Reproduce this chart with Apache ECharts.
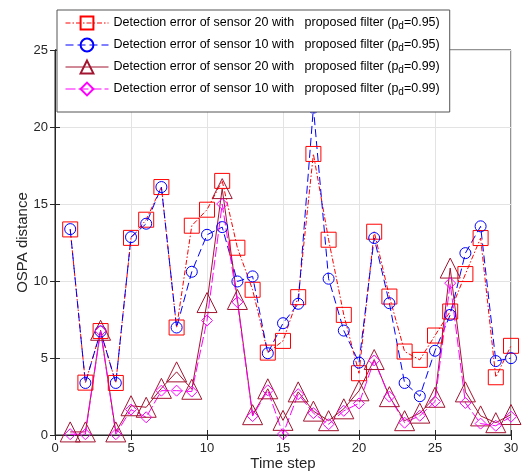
<!DOCTYPE html>
<html>
<head>
<meta charset="utf-8">
<script src="https://cdn.jsdelivr.net/npm/echarts@6/dist/echarts.min.js"></script>
<style>
html,body{margin:0;padding:0;background:#fff;}
#chart{width:522px;height:473px;}
</style>
</head>
<body>
<div id="chart"></div>
<script>
// ---- data ----
var steps = [1,2,3,4,5,6,7,8,9,10,11,12,13,14,15,16,17,18,19,20,21,22,23,24,25,26,27,28,29,30];
var s20pd95 = [13.35,3.4,6.75,3.38,12.8,13.98,16.1,6.98,13.59,14.63,16.5,12.16,9.43,5.35,6.11,8.95,18.25,12.68,7.8,4.01,13.2,8.99,5.42,4.88,6.46,8.02,10.45,12.79,3.75,5.79];
var s10pd95 = [13.37,3.38,6.72,3.38,12.85,13.72,16.1,6.98,10.6,13.0,13.5,9.97,10.3,5.31,7.26,8.52,21.26,10.15,6.78,4.7,12.79,8.56,3.38,2.52,5.47,7.8,11.81,13.55,4.8,4.99];
var s20pd99 = [0.2,0.2,6.8,0.2,1.9,1.8,3.03,4.1,2.97,8.6,16.0,8.8,1.32,3.0,0.95,2.8,1.55,0.93,1.7,2.87,4.9,2.49,0.93,1.42,2.45,10.84,2.8,1.24,0.8,1.33];
var s10pd99 = [0.05,0.05,6.76,0.05,1.65,1.15,2.88,2.88,2.82,7.43,15.0,8.63,1.23,2.9,0.06,2.65,1.42,0.7,1.57,2.05,4.84,2.49,0.8,1.25,2.17,9.86,2.08,0.74,0.6,1.19];
var names = [
  'Detection error of sensor 20 with   proposed filter (p{sub|d}=0.95)',
  'Detection error of sensor 10 with   proposed filter (p{sub|d}=0.95)',
  'Detection error of sensor 20 with   proposed filter (p{sub|d}=0.99)',
  'Detection error of sensor 10 with   proposed filter (p{sub|d}=0.99)'
];
var xTicks = [0,5,10,15,20,25,30];
var yTicks = [0,5,10,15,20,25];

function pairs(v){ return steps.map(function(t,i){ return [t, v[i]]; }); }

var chart = echarts.init(document.getElementById('chart'), null, {renderer:'canvas'});
var font = 'Liberation Sans, Arial, Helvetica, sans-serif';
var axisCol = '#262626';

function mk(name, data, color, dash, symbol, size){
  return {
    name: name, type: 'line', data: pairs(data),
    symbol: symbol, symbolSize: size, showSymbol: true,
    lineStyle: {color: color, width: 1, type: dash},
    itemStyle: {color: 'rgba(0,0,0,0)', borderColor: color, borderWidth: 1},
    emphasis: {disabled: true}, animation: false
  };
}

var option = {
  animation: false,
  grid: {left: 55, right: 11, top: 50, bottom: 38, containLabel: false, outerBoundsMode: 'none',
    show: true, borderColor: axisCol, borderWidth: 1, backgroundColor: '#fff'},
  legend: {
    orient: 'vertical', left: 57, top: 10,
    itemWidth: 43, itemHeight: 16, itemGap: 6,
    padding: [5, 10, 15, 8],
    backgroundColor: '#fff', borderColor: '#555', borderWidth: 1,
    selectedMode: false,
    lineStyle: {width: 1},
    textStyle: {
      fontFamily: font, fontSize: 12.5, color: '#000', lineHeight: 16,
      rich: {
        sub: {fontFamily: font, fontSize: 10, color: '#000', verticalAlign: 'bottom', lineHeight: 10, padding: [6,0,0,0]}
      }
    },
    data: names.map(function(n){ return {name: n}; })
  },
  xAxis: [{
    type: 'value', min: 0, max: 30, interval: 5,
    name: 'Time step', nameLocation: 'middle', nameGap: 21, nameMoveOverlap: false,
    nameTextStyle: {fontFamily: font, fontSize: 15, color: axisCol},
    axisLine: {show: true, lineStyle: {color: axisCol}},
    axisTick: {show: true, inside: true, length: 5, lineStyle: {color: axisCol}},
    axisLabel: {fontFamily: font, fontSize: 13, color: axisCol, margin: 7,
      formatter: function(v){ return xTicks.indexOf(v) >= 0 ? String(v) : ''; }},
    splitLine: {show: true, lineStyle: {color: '#e3e3e3'}}
  },{
    type: 'value', position: 'top', min: 0, max: 30, interval: 5,
    axisLine: {show: true, lineStyle: {color: axisCol}},
    axisTick: {show: true, inside: true, length: 5, lineStyle: {color: axisCol}},
    axisLabel: {show: false}, splitLine: {show: false}
  }],
  yAxis: [{
    type: 'value', min: 0, max: 25, interval: 5,
    name: 'OSPA distance', nameLocation: 'middle', nameGap: 25, nameMoveOverlap: false,
    nameTextStyle: {fontFamily: font, fontSize: 15, color: axisCol},
    axisLine: {show: true, lineStyle: {color: axisCol}},
    axisTick: {show: true, inside: true, length: 5, lineStyle: {color: axisCol}},
    axisLabel: {fontFamily: font, fontSize: 13, color: axisCol, margin: 7,
      formatter: function(v){ return yTicks.indexOf(v) >= 0 ? String(v) : ''; }},
    splitLine: {show: true, lineStyle: {color: '#e3e3e3'}}
  },{
    type: 'value', position: 'right', min: 0, max: 25, interval: 5,
    axisLine: {show: true, lineStyle: {color: axisCol}},
    axisTick: {show: true, inside: true, length: 5, lineStyle: {color: axisCol}},
    axisLabel: {show: false}, splitLine: {show: false}
  }],
  series: [
    mk(names[0], s20pd95, '#ff0000', [5,2,1.5,2], 'rect', 15),
    mk(names[1], s10pd95, '#0000ff', [8,4], 'circle', 11),
    mk(names[2], s20pd99, '#a2142f', 'solid', 'triangle', 20),
    mk(names[3], s10pd99, '#ff00ff', [10,3], 'diamond', 11)
  ]
};
chart.setOption(option);
</script>
</body>
</html>
